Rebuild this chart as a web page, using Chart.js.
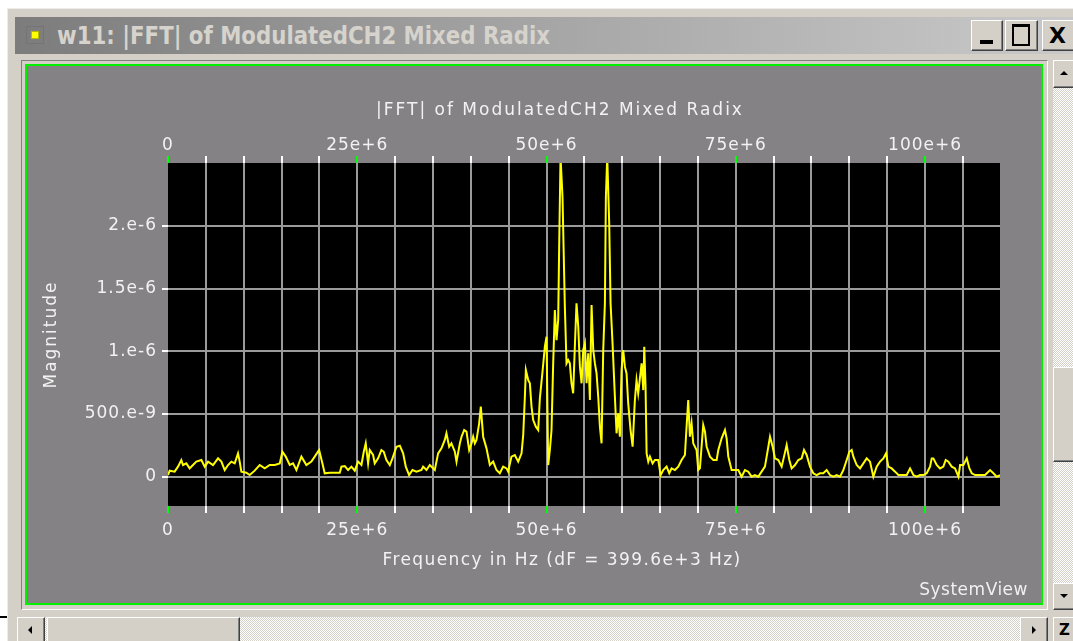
<!DOCTYPE html>
<html><head><meta charset="utf-8">
<script src="https://cdn.jsdelivr.net/npm/chart.js@4.4.1/dist/chart.umd.min.js"></script>
<style>
html,body{margin:0;padding:0;background:#ffffff;width:1073px;height:641px;overflow:hidden;position:relative;font-family:"DejaVu Sans",sans-serif}
.a{position:absolute;box-sizing:border-box}
.btn{background:#d4d0c8;border-top:1px solid #ffffff;border-left:1px solid #ffffff;border-right:1px solid #404040;border-bottom:1px solid #404040;box-shadow:inset -1px -1px 0 #808080}
.track{background-image:repeating-conic-gradient(#ffffff 0% 25%, #d4d0c8 0% 50%);background-size:2px 2px}
.tri{position:absolute;width:0;height:0}
</style></head><body>
<div class="a" style="left:7px;top:8px;width:1066px;height:633px;background:#d4d0c8;border-left:1px solid #eeece8;border-top:1px solid #eeece8"></div>
<div class="a" style="left:0;top:616px;width:7px;height:2px;background:#000"></div>
<!-- title bar -->
<div class="a" style="left:15px;top:17px;width:1058px;height:37px;background:linear-gradient(to right,#7c7c7c 0%,#a2a2a2 45%,#c9c9c9 100%)"></div>
<div class="a" style="left:26px;top:26px;width:18px;height:18px;border:1px solid #747474"></div>
<div class="a" style="left:31px;top:31px;width:8px;height:8px;background:#ffff00;border:1px solid #b8b800"></div>
<div id="wtitle" class="a" style="left:57px;top:22px;white-space:nowrap;font-family:'Liberation Sans Narrow','DejaVu Sans Condensed','DejaVu Sans',sans-serif;font-weight:bold;font-size:24px;line-height:28px;color:#d6d3cd;transform-origin:0 0">w11: |FFT| of ModulatedCH2 Mixed Radix</div>
<div class="a btn" style="left:971px;top:20px;width:32px;height:31px"><div class="a" style="left:8px;top:19px;width:13px;height:4px;background:#000"></div></div>
<div class="a btn" style="left:1005px;top:20px;width:33px;height:31px"><div class="a" style="left:6px;top:3px;width:18px;height:22px;border:2px solid #000;border-top-width:3px"></div></div>
<div class="a btn" style="left:1042px;top:20px;width:36px;height:31px;font:bold 22px 'DejaVu Sans',sans-serif;color:#000;line-height:29px;padding-left:6px">X</div>
<!-- panel -->
<div class="a" style="left:21px;top:60px;width:1027px;height:550px;border-top:1px solid #808080;border-left:1px solid #808080;border-right:1px solid #ffffff;border-bottom:1px solid #ffffff"></div>
<div class="a" style="left:25px;top:64px;width:1018px;height:541px;border:2px solid #00f000;background:#848284"></div>
<canvas id="c" class="a" width="1014" height="537" style="left:27px;top:66px"></canvas>
<div class="a" style="right:45px;top:578px;font:17px 'DejaVu Sans',sans-serif;letter-spacing:0.5px;color:#f0f0f0;line-height:22px">SystemView</div>
<!-- vertical scrollbar -->
<div class="a track" style="left:1053px;top:88px;width:20px;height:495px"></div>
<div class="a btn" style="left:1053px;top:60px;width:22px;height:28px"><div class="tri" style="left:6px;top:10px;border-left:4px solid transparent;border-right:4px solid transparent;border-bottom:4px solid #000"></div></div>
<div class="a btn" style="left:1053px;top:367px;width:22px;height:95px"></div>
<div class="a btn" style="left:1053px;top:583px;width:22px;height:27px"><div class="tri" style="left:6px;top:10px;border-left:4px solid transparent;border-right:4px solid transparent;border-top:4px solid #000"></div></div>
<!-- horizontal scrollbar -->
<div class="a track" style="left:45px;top:617px;width:975px;height:24px"></div>
<div class="a btn" style="left:17px;top:617px;width:28px;height:26px"><div class="tri" style="left:10px;top:8px;border-top:4px solid transparent;border-bottom:4px solid transparent;border-right:4px solid #000"></div></div>
<div class="a btn" style="left:47px;top:617px;width:193px;height:26px"></div>
<div class="a btn" style="left:1020px;top:617px;width:28px;height:26px"><div class="tri" style="left:11px;top:8px;border-top:4px solid transparent;border-bottom:4px solid transparent;border-left:4px solid #000"></div></div>
<div class="a btn" style="left:1053px;top:617px;width:22px;height:26px;font:bold 15px 'DejaVu Sans',sans-serif;color:#000;padding-left:5px;line-height:24px">Z</div>
<script>
// ---- data (frequency in MHz, magnitude in micro units) ----
const freqMHz = [0.00,0.22,0.88,1.32,1.76,1.98,2.42,2.86,3.30,3.74,4.41,4.85,5.29,5.95,6.61,7.05,7.49,7.93,8.37,8.81,9.25,9.47,9.69,10.35,10.79,11.45,12.11,12.78,13.44,14.10,14.76,15.11,15.55,16.08,16.52,16.96,17.62,18.28,18.94,19.38,19.96,20.40,20.70,21.37,22.69,22.91,23.35,23.79,24.23,24.67,25.11,25.55,25.86,26.12,26.43,26.65,27.09,27.31,27.75,28.19,28.50,28.85,29.30,29.65,30.18,30.62,31.06,31.41,31.85,32.29,32.82,33.48,33.70,34.14,34.58,35.24,35.68,36.12,36.56,36.78,37.14,37.44,37.89,38.11,38.55,38.77,39.12,39.43,39.78,40.09,40.31,40.53,40.75,41.10,41.32,41.63,42.07,42.51,42.95,43.39,43.83,
44.27,44.71,44.93,45.37,45.81,46.26,46.70,46.92,47.14,47.27,47.58,47.80,48.02,48.24,48.59,48.90,49.12,49.47,49.78,50.00,50.22,50.44,50.66,50.88,51.10,51.32,51.54,51.67,51.85,52.11,52.42,52.64,52.86,53.08,53.30,53.52,53.74,53.96,54.19,54.41,54.63,54.85,55.07,55.29,55.51,55.73,55.95,56.17,56.39,56.61,56.83,57.05,57.27,57.49,57.71,57.84,58.02,58.28,58.46,58.72,59.03,59.25,59.47,59.69,59.91,60.13,60.35,60.57,60.79,61.10,61.37,61.67,61.89,62.11,62.56,62.78,62.91,63.08,63.22,63.44,63.66,64.01,64.32,64.76,65.07,65.42,65.86,66.21,66.52,66.96,67.40,67.84,68.28,68.50,68.72,68.94,69.16,69.38,69.82,70.04,70.26,
70.70,70.93,71.15,71.59,72.03,72.47,72.69,73.13,73.57,73.79,74.01,74.45,74.89,75.33,75.77,76.21,76.65,77.09,77.53,77.97,78.41,78.85,79.30,79.52,79.87,80.18,80.62,81.06,81.37,81.72,82.07,82.38,82.82,83.26,83.70,84.01,84.36,84.80,85.24,85.68,86.12,86.56,87.00,87.44,87.89,88.33,88.77,89.21,89.65,90.00,90.31,90.53,90.97,91.41,91.85,92.29,92.73,93.17,93.61,94.05,94.49,94.85,95.15,95.59,96.04,96.48,97.14,97.58,98.02,98.46,98.90,99.34,99.78,100.22,100.66,100.88,101.10,101.54,101.98,102.42,102.73,103.08,103.52,103.96,104.41,104.63,105.07,105.51,105.86,106.17,106.61,107.27,107.93,108.59,109.03,109.47,109.91];
const magMicro = [0.013,0.048,0.040,0.080,0.133,0.093,0.106,0.066,0.093,0.120,0.133,0.080,0.120,0.093,0.146,0.120,0.053,0.093,0.120,0.106,0.186,0.120,0.040,0.032,0.013,0.048,0.093,0.066,0.093,0.093,0.106,0.199,0.160,0.093,0.106,0.053,0.160,0.093,0.120,0.160,0.213,0.106,0.027,0.032,0.032,0.080,0.085,0.053,0.080,0.048,0.120,0.093,0.199,0.266,0.106,0.213,0.173,0.106,0.146,0.213,0.199,0.133,0.093,0.146,0.239,0.247,0.186,0.080,0.013,0.053,0.040,0.053,0.080,0.053,0.093,0.053,0.186,0.226,0.293,0.346,0.239,0.266,0.199,0.120,0.266,0.319,0.372,0.359,0.213,0.266,0.319,0.266,0.293,0.426,0.559,0.319,0.226,0.093,0.120,0.053,0.027,
0.080,0.066,0.040,0.160,0.173,0.120,0.186,0.332,0.638,0.851,0.771,0.745,0.559,0.452,0.399,0.372,0.625,0.838,1.037,1.117,0.093,0.213,0.372,0.904,1.330,1.090,1.250,1.835,2.55,2.234,1.356,0.904,0.931,0.904,0.745,0.665,1.037,1.383,1.197,0.878,0.745,1.011,1.064,0.745,0.984,0.612,1.370,1.011,0.904,0.824,0.638,0.399,0.266,1.011,1.383,2.234,2.55,2.021,1.383,1.064,0.638,0.346,0.505,0.319,0.851,1.011,0.878,0.824,0.585,0.372,0.239,0.612,0.771,0.665,0.904,0.691,1.037,0.718,0.186,0.120,0.160,0.106,0.133,0.133,0.013,0.053,0.080,0.027,0.066,0.053,0.080,0.133,0.173,0.399,0.612,0.319,0.426,0.266,0.213,0.053,0.066,
0.412,0.359,0.239,0.160,0.133,0.133,0.213,0.306,0.372,0.306,0.160,0.053,0.053,0.053,0.000,0.053,0.040,0.000,0.013,0.000,0.040,0.080,0.239,0.319,0.239,0.146,0.133,0.080,0.160,0.253,0.133,0.066,0.093,0.133,0.146,0.213,0.173,0.080,0.027,0.013,0.027,0.027,0.053,0.013,0.000,0.013,0.000,0.053,0.133,0.199,0.213,0.160,0.093,0.066,0.106,0.146,0.120,0.000,0.080,0.120,0.146,0.186,0.080,0.066,0.040,0.013,0.013,0.013,0.066,0.013,0.000,0.013,0.013,0.027,0.080,0.146,0.146,0.093,0.066,0.080,0.133,0.120,0.080,0.066,0.000,0.093,0.093,0.146,0.066,0.027,0.013,0.013,0.013,0.053,0.027,0.000,0.013];

// ---- axes / ticks ----
const xMin = 0, xMax = 109.9e6, xMinorStep = 5e6;
const xLabelValues = [0, 25e6, 50e6, 75e6, 100e6];
const xLabelTexts  = ['0', '25e+6', '50e+6', '75e+6', '100e+6'];
const yMin = -0.234e-6, yMax = 2.503e-6;
const yTickValues = [0, 0.5e-6, 1e-6, 1.5e-6, 2e-6];
const yTickLabels = ['0', '500.e-9', '1.e-6', '1.5e-6', '2.e-6'];
const chartTitle = '|FFT| of ModulatedCH2 Mixed Radix';
const xTitle = 'Frequency in Hz (dF = 399.6e+3 Hz)';
const yTitle = 'Magnitude';

// fit window caption width
(function(){const t=document.getElementById('wtitle');const w=t.getBoundingClientRect().width;t.style.transform='scaleX('+(493/w)+')';})();

const xTicks = [];
for (let v = xMin; v <= xMax; v += xMinorStep) xTicks.push(v);
const points = freqMHz.map((f, i) => ({x: f * 1e6, y: magMicro[i] * 1e-6}));

const txt = '#f2f2f2';
const font = {family: "'DejaVu Sans', sans-serif", size: 17};
const gridCol = '#9a9a9a';
const xLabel = v => { const k = xLabelValues.indexOf(v); return k >= 0 ? xLabelTexts[k] : ''; };
const tickCol = c => (c.tick && xLabelValues.indexOf(c.tick.value) >= 0) ? '#00ff00' : '#ffffff';

// title drawing with custom letter spacing and horizontal shift
function styleTitle(s, spacing, dx) {
  if (s._titlePatched) return;
  s._titlePatched = true;
  const orig = Object.getPrototypeOf(s).drawTitle;
  s.drawTitle = function() {
    const c = this.ctx;
    c.save();
    c.letterSpacing = spacing;
    c.translate(dx, 0);
    orig.call(this);
    c.restore();
  };
}

const bgPlugin = {
  id: 'bg',
  beforeDraw(chart) {
    const {ctx, chartArea: a} = chart;
    ctx.letterSpacing = '1px';
    ctx.save();
    ctx.fillStyle = '#000000';
    ctx.fillRect(a.left, a.top, a.right - a.left, a.bottom - a.top);
    ctx.restore();
  }
};

new Chart(document.getElementById('c'), {
  type: 'line',
  data: {datasets: [{data: points, borderColor: '#ffff00', borderWidth: 2, pointRadius: 0, tension: 0, fill: false}]},
  options: {
    responsive: false, animation: false, events: [], devicePixelRatio: 1,
    layout: {padding: {left: 0, right: 41, top: 0, bottom: 0}},
    plugins: {legend: {display: false}, tooltip: {enabled: false}, title: {display: false}},
    scales: {
      x: {
        type: 'linear', position: 'bottom', min: xMin, max: xMax,
        afterBuildTicks: s => { s.ticks = xTicks.map(v => ({value: v})); },
        afterFit: s => { s.height = 97; styleTitle(s, '1.4px', -22); },
        ticks: {autoSkip: false, maxRotation: 0, padding: 7, color: txt, font, callback: v => xLabel(v)},
        grid: {color: c => (c.tick && c.tick.value === 0) ? 'rgba(0,0,0,0)' : gridCol, lineWidth: 2, tickLength: 7, tickWidth: 2, tickColor: tickCol},
        border: {display: false},
        title: {display: true, text: xTitle, color: txt, font, padding: {top: 0, bottom: 32}}
      },
      x2: {
        type: 'linear', axis: 'x', position: 'top', min: xMin, max: xMax,
        afterBuildTicks: s => { s.ticks = xTicks.map(v => ({value: v})); },
        afterFit: s => { s.height = 97; styleTitle(s, '2px', -24); },
        ticks: {autoSkip: false, maxRotation: 0, padding: 0, color: txt, font, callback: v => xLabel(v)},
        grid: {drawOnChartArea: false, lineWidth: 2, tickLength: 7, tickWidth: 2, tickColor: tickCol, color: gridCol},
        border: {display: false},
        title: {display: true, text: chartTitle, color: txt, font, padding: {top: 34, bottom: 0}}
      },
      y: {
        type: 'linear', position: 'left', min: yMin, max: yMax,
        afterBuildTicks: s => { s.ticks = yTickValues.map(v => ({value: v})); },
        afterFit: s => { s.width = 141; styleTitle(s, '2px', 0); },
        ticks: {autoSkip: false, padding: 5, color: txt, font, callback: v => { const k = yTickValues.indexOf(v); return k >= 0 ? yTickLabels[k] : ''; }},
        grid: {color: gridCol, lineWidth: 2, tickLength: 6, tickWidth: 2, tickColor: '#ffffff'},
        border: {display: false},
        title: {display: true, text: yTitle, color: txt, font, padding: {top: 14, bottom: 0}}
      }
    }
  },
  plugins: [bgPlugin]
});
</script>
</body></html>
